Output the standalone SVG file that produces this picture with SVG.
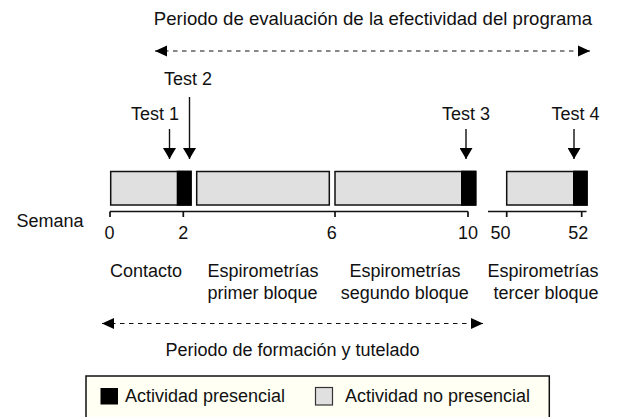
<svg xmlns="http://www.w3.org/2000/svg" width="619" height="417" viewBox="0 0 619 417">
<defs>
<marker id="ah" markerUnits="userSpaceOnUse" markerWidth="12" markerHeight="12" viewBox="0 0 12 12" refX="12" refY="6" orient="auto-start-reverse">
<path d="M0,0.5 L12,6 L0,11.5 z" fill="#000"/>
</marker>
<marker id="av" markerUnits="userSpaceOnUse" markerWidth="11" markerHeight="13" viewBox="0 0 11 13" refX="11" refY="6.5" orient="auto">
<path d="M0,0 L11,6.5 L0,13 z" fill="#000"/>
</marker>
<style>
text{font-family:"Liberation Sans",Arial,Helvetica,sans-serif;font-size:18px;fill:#111}
.bar{fill:#e0e0e0;stroke:#111;stroke-width:1.5}
.blk{fill:#000}
.axis{stroke:#111;stroke-width:1.7;fill:none}
.dash{stroke:#111;stroke-width:1.2;stroke-dasharray:4.5 4.5;fill:none}
.arr{stroke:#111;stroke-width:1.4;fill:none}
.mid{text-anchor:middle}
.end{text-anchor:end}
</style>
</defs>
<rect width="619" height="417" fill="#fff"/>

<g id="title-eval">
<text x="373" y="25" class="mid" style="font-size:18.6px">Periodo de evaluación de la efectividad del programa</text>
</g>

<g id="connectors">
<line class="dash" x1="155" y1="51" x2="590" y2="51" marker-start="url(#ah)" marker-end="url(#ah)"/>
<line class="dash" x1="102" y1="323.5" x2="483" y2="323.5" marker-start="url(#ah)" marker-end="url(#ah)"/>
<line class="arr" x1="169.5" y1="129" x2="169.5" y2="159" marker-end="url(#av)"/>
<line class="arr" x1="189.5" y1="97" x2="189.5" y2="159" marker-end="url(#av)"/>
<line class="arr" x1="466" y1="129" x2="466" y2="159" marker-end="url(#av)"/>
<line class="arr" x1="574" y1="129" x2="574" y2="159" marker-end="url(#av)"/>
</g>

<g id="test-labels">
<text x="131" y="120">Test 1</text>
<text x="188" y="85" class="mid">Test 2</text>
<text x="466" y="120" class="mid">Test 3</text>
<text x="575.5" y="120" class="mid">Test 4</text>
</g>

<g id="bar-contacto">
<rect class="bar" x="110.7" y="171.5" width="80.3" height="33.5"/>
<rect class="blk" x="176.7" y="170.7" width="15" height="35"/>
</g>
<g id="bar-primer">
<rect class="bar" x="196.7" y="171.5" width="132.6" height="33.5"/>
</g>
<g id="bar-segundo">
<rect class="bar" x="335" y="171.5" width="140.7" height="33.5"/>
<rect class="blk" x="461" y="170.7" width="15.4" height="35"/>
</g>
<g id="bar-tercer">
<rect class="bar" x="506.7" y="171.5" width="80.3" height="33.5"/>
<rect class="blk" x="573" y="170.7" width="14.7" height="35"/>
</g>

<g id="axis">
<path class="axis" d="M110,211.5 H468 M110,211.5 V217 M183.3,211.5 V217 M335,211.5 V217 M468,211.5 V217"/>
<path class="axis" d="M488,211.5 H586.5 M506.7,211.5 V217 M581.7,211.5 V217"/>
<text x="16.5" y="227">Semana</text>
<text x="109.5" y="239" class="mid">0</text>
<text x="183.3" y="239" class="mid">2</text>
<text x="331.7" y="239" class="mid">6</text>
<text x="468" y="239" class="mid">10</text>
<text x="500.5" y="239" class="mid">50</text>
<text x="578.3" y="239" class="mid">52</text>
</g>

<g id="phase-labels">
<text x="110" y="277">Contacto</text>
<text x="263" y="277" class="mid">Espirometrías</text>
<text x="262.5" y="298.5" class="mid">primer bloque</text>
<text x="405" y="277" class="mid">Espirometrías</text>
<text x="404.7" y="298.5" class="mid">segundo bloque</text>
<text x="598.5" y="277" class="end">Espirometrías</text>
<text x="598.5" y="298.5" class="end">tercer bloque</text>
</g>

<g id="title-formacion">
<text x="292.5" y="356" class="mid">Periodo de formación y tutelado</text>
</g>

<g id="legend">
<rect x="86" y="376" width="463.3" height="50" fill="#fffff4" stroke="#111" stroke-width="1.5"/>
<rect x="100.5" y="388" width="17.5" height="16.5" fill="#000"/>
<text x="125" y="401.5">Actividad presencial</text>
<rect x="315.5" y="387.5" width="17" height="17.5" fill="#e0e0e0" stroke="#333" stroke-width="1.2"/>
<text x="345" y="401.5">Actividad no presencial</text>
</g>
</svg>
